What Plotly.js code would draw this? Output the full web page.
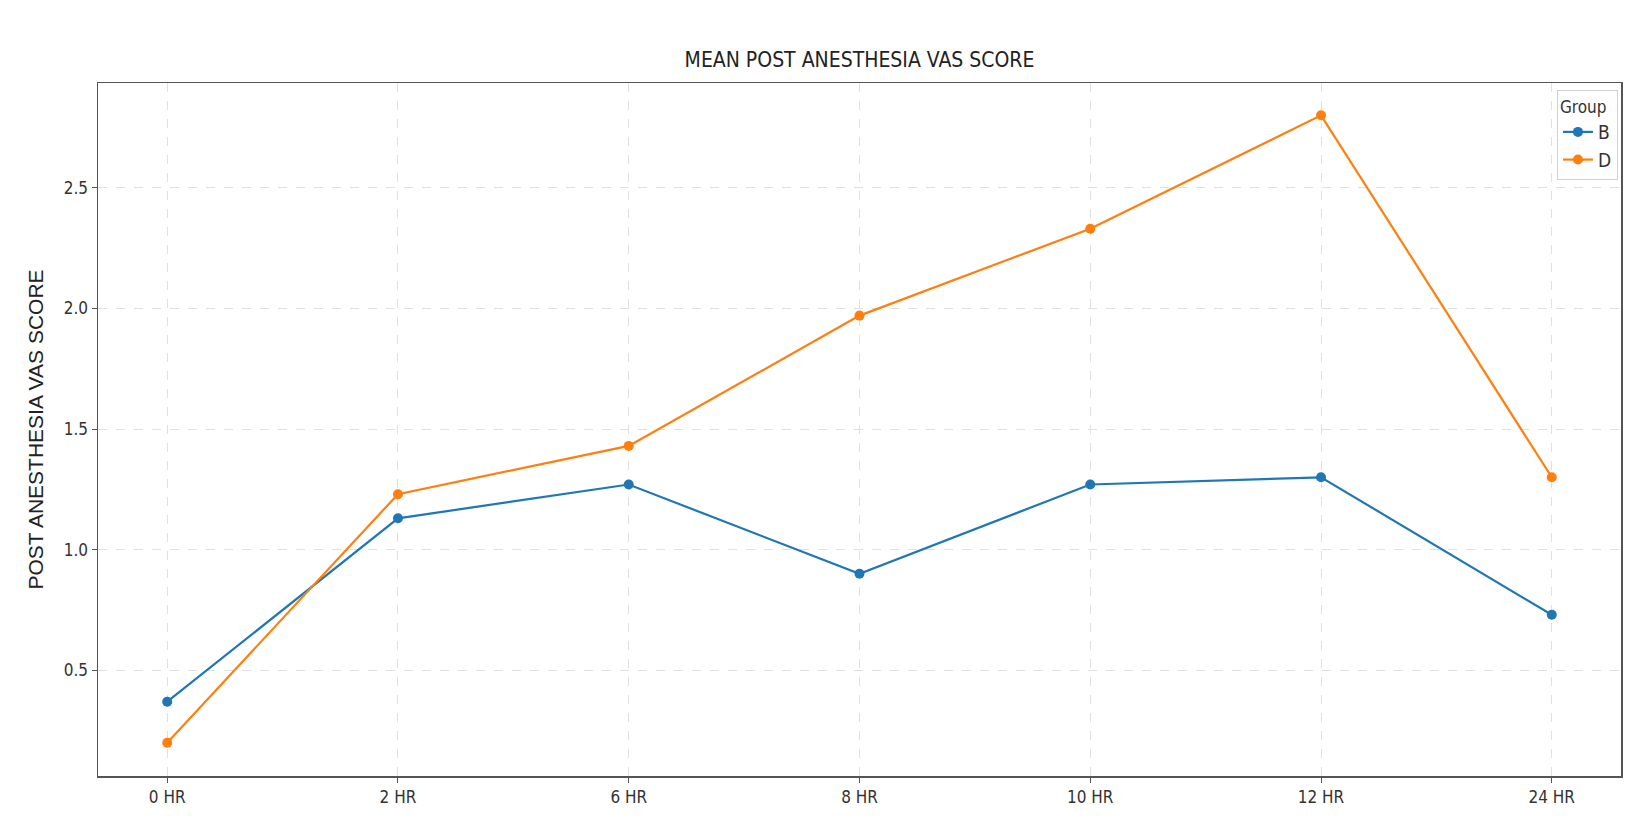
<!DOCTYPE html>
<html>
<head>
<meta charset="utf-8">
<script src="https://cdn.plot.ly/plotly-3.0.1.min.js"></script>
<style>
  html, body { margin: 0; padding: 0; background: #fff; }
  #chart { width: 1629px; height: 830px; }
</style>
</head>
<body>
<div id="chart"></div>
<script>
// time points after anesthesia
const timePoints = ['0 HR', '2 HR', '6 HR', '8 HR', '10 HR', '12 HR', '24 HR'];

// mean VAS score per group
const groupB = [0.37, 1.13, 1.27, 0.90, 1.27, 1.30, 0.73];
const groupD = [0.20, 1.23, 1.43, 1.97, 2.33, 2.80, 1.30];

const yTicks = [0.5, 1.0, 1.5, 2.0, 2.5];
const yTickText = ['0.5', '1.0', '1.5', '2.0', '2.5'];

const condensed = '"DejaVu Sans Condensed", "Liberation Sans Narrow", "DejaVu Sans", sans-serif';

function series(name, values, color) {
    return {
        type: 'scatter',
        mode: 'lines+markers',
        name: name,
        x: timePoints,
        y: values,
        line: { color: color, width: 2.2 },
        marker: { color: color, size: 10, symbol: 'circle' }
    };
}

const data = [
    series('B', groupB, '#1f77b4'),
    series('D', groupD, '#ff7f0e')
];

const layout = {
    width: 1629,
    height: 830,
    margin: { l: 98, r: 8, t: 83, b: 54 },
    paper_bgcolor: '#ffffff',
    plot_bgcolor: '#ffffff',
    showlegend: true,
    title: {
        text: 'MEAN POST ANESTHESIA VAS SCORE',
        font: { family: condensed, size: 21, color: '#222' },
        x: 0.5,
        xref: 'paper',
        y: 0.928,
        yanchor: 'middle'
    },
    xaxis: {
        type: 'category',
        range: [-0.3, 6.3],
        showline: true,
        mirror: true,
        linecolor: '#555',
        linewidth: 1.5,
        ticks: 'outside',
        ticklen: 5,
        tickcolor: '#555',
        showgrid: true,
        gridcolor: '#e0e0e0',
        griddash: 'dash',
        gridwidth: 1,
        zeroline: false,
        tickfont: { family: condensed, size: 17, color: '#333' }
    },
    yaxis: {
        range: [0.062, 2.934],
        tickvals: yTicks,
        ticktext: yTickText,
        showline: true,
        mirror: true,
        linecolor: '#555',
        linewidth: 1.5,
        ticks: 'outside',
        ticklen: 5,
        tickcolor: '#555',
        showgrid: true,
        gridcolor: '#e0e0e0',
        griddash: 'dash',
        gridwidth: 1,
        zeroline: false,
        tickfont: { family: condensed, size: 17, color: '#333' },
        title: {
            text: 'POST ANESTHESIA VAS SCORE',
            font: { family: '"Liberation Sans", Arial, sans-serif', size: 21, color: '#222' },
            standoff: 14
        }
    },
    legend: {
        title: { text: 'Group', side: 'top', font: { family: condensed, size: 17, color: '#333' } },
        x: 0.998,
        y: 0.99,
        xanchor: 'right',
        yanchor: 'top',
        bgcolor: 'rgba(255,255,255,0.9)',
        bordercolor: '#d0d0d0',
        borderwidth: 1,
        font: { family: condensed, size: 19, color: '#333' },
        itemwidth: 30
    }
};

Plotly.newPlot('chart', data, layout, { displayModeBar: false, staticPlot: true });
</script>
</body>
</html>
